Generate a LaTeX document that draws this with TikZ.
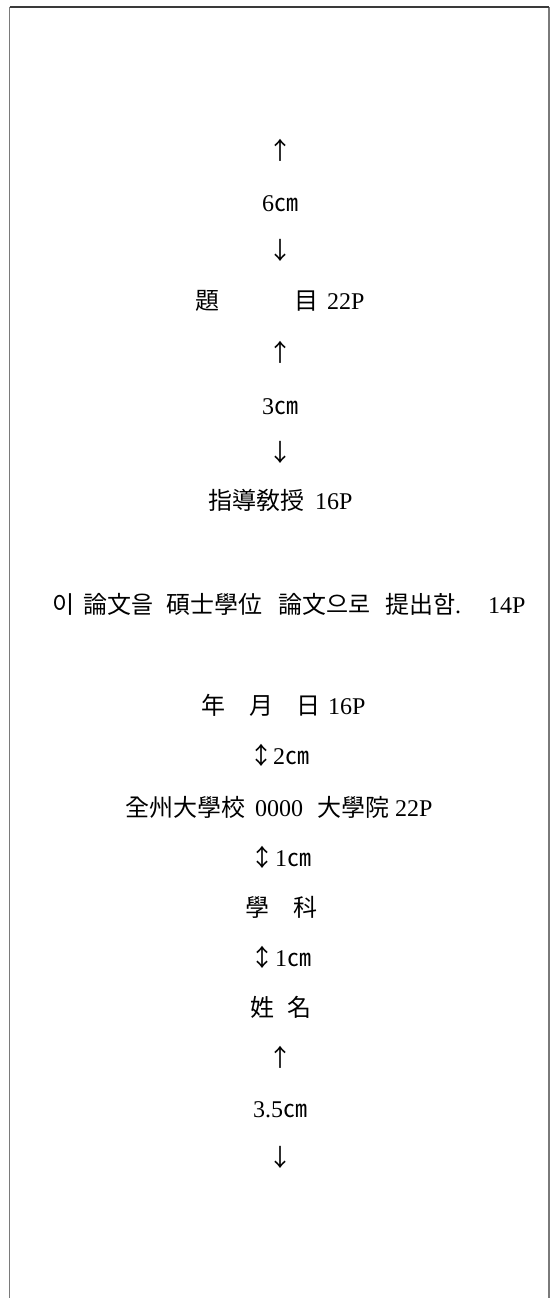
\documentclass[tikz,border=0pt]{standalone}
\usepackage{fontspec}
\setmainfont{Liberation Serif}
\newfontfamily\kr{Noto Sans CJK KR}
\newcommand{\krt}[1]{{\kr #1}}
\definecolor{frametop}{HTML}{3A3A3A}
\definecolor{frameside}{HTML}{7A7A7A}
\begin{document}
\begin{tikzpicture}[x=1bp,y=-1bp,
  txt/.style={anchor=base west, inner sep=0pt, outer sep=0pt, font=\fontsize{24bp}{28bp}\selectfont},
  arr/.style={anchor=base, inner sep=0pt, outer sep=0pt, font=\kr\fontsize{24bp}{28bp}\selectfont},
  topline/.style={draw=frametop, line width=1.6bp},
  sideline/.style={draw=frameside, line width=1.1bp}]
\useasboundingbox (0,0) rectangle (550,1298);
% frame (open at the bottom)
\coordinate (tl) at (9.5,7);
\coordinate (tr) at (549,7);
\coordinate (bl) at (9.5,1298);
\coordinate (br) at (549,1298);
\draw[sideline] (tl) -- (bl);
\draw[sideline] (tr) -- (br);
\draw[topline] (tl) -- (tr);
% 6cm
\node[arr] (up1) at (280,159) {↑};
\node[txt] (cm6) at (262,211) {6\krt{㎝}};
\node[arr] (dn1) at (280,259) {↓};
% title
\node[txt] (t1) at (195,309) {\krt{題}};
\node[txt] (t2) at (294,309) {\krt{目}};
\node[txt] (t3) at (327,309) {22P};
% 3cm
\node[arr] (up2) at (280,361) {↑};
\node[txt] (cm3) at (262,414) {3\krt{㎝}};
\node[arr] (dn2) at (280,461) {↓};
% professor
\node[txt] (p1) at (208,509) {\krt{指導敎授}};
\node[txt] (p2) at (315,509) {16P};
% submission sentence
\node[txt] (s1) at (52,613) {\krt{이}};
\node[txt] (s2) at (83,613) {\krt{論文을}};
\node[txt] (s3) at (166,613) {\krt{碩士學位}};
\node[txt] (s4) at (278,613) {\krt{論文으로}};
\node[txt] (s5) at (385,613) {\krt{提出함}.};
\node[txt] (s6) at (488,613) {14P};
% date
\node[txt] (d1) at (201,714) {\krt{年}};
\node[txt] (d2) at (249,714) {\krt{月}};
\node[txt] (d3) at (296,714) {\krt{日}};
\node[txt] (d4) at (328,714) {16P};
% 2cm
\node[arr] (ud1) at (261,764) {↕};
\node[txt] (cm2) at (273,764) {2\krt{㎝}};
% university
\node[txt] (u1) at (125,816) {\krt{全州大學校}};
\node[txt] (u2) at (255,816) {0000};
\node[txt] (u3) at (317,816) {\krt{大學院}};
\node[txt] (u4) at (395,816) {22P};
% 1cm
\node[arr] (ud2) at (262,866) {↕};
\node[txt] (cm1a) at (275,866) {1\krt{㎝}};
% department
\node[txt] (g1) at (245,916) {\krt{學}};
\node[txt] (g2) at (293,916) {\krt{科}};
% 1cm
\node[arr] (ud3) at (262,966) {↕};
\node[txt] (cm1b) at (275,966) {1\krt{㎝}};
% name
\node[txt] (n1) at (250,1016) {\krt{姓}};
\node[txt] (n2) at (287,1016) {\krt{名}};
% 3.5cm
\node[arr] (up3) at (280,1066) {↑};
\node[txt] (cm35) at (253,1117) {3.5\krt{㎝}};
\node[arr] (dn3) at (280,1166) {↓};
\end{tikzpicture}
\end{document}
